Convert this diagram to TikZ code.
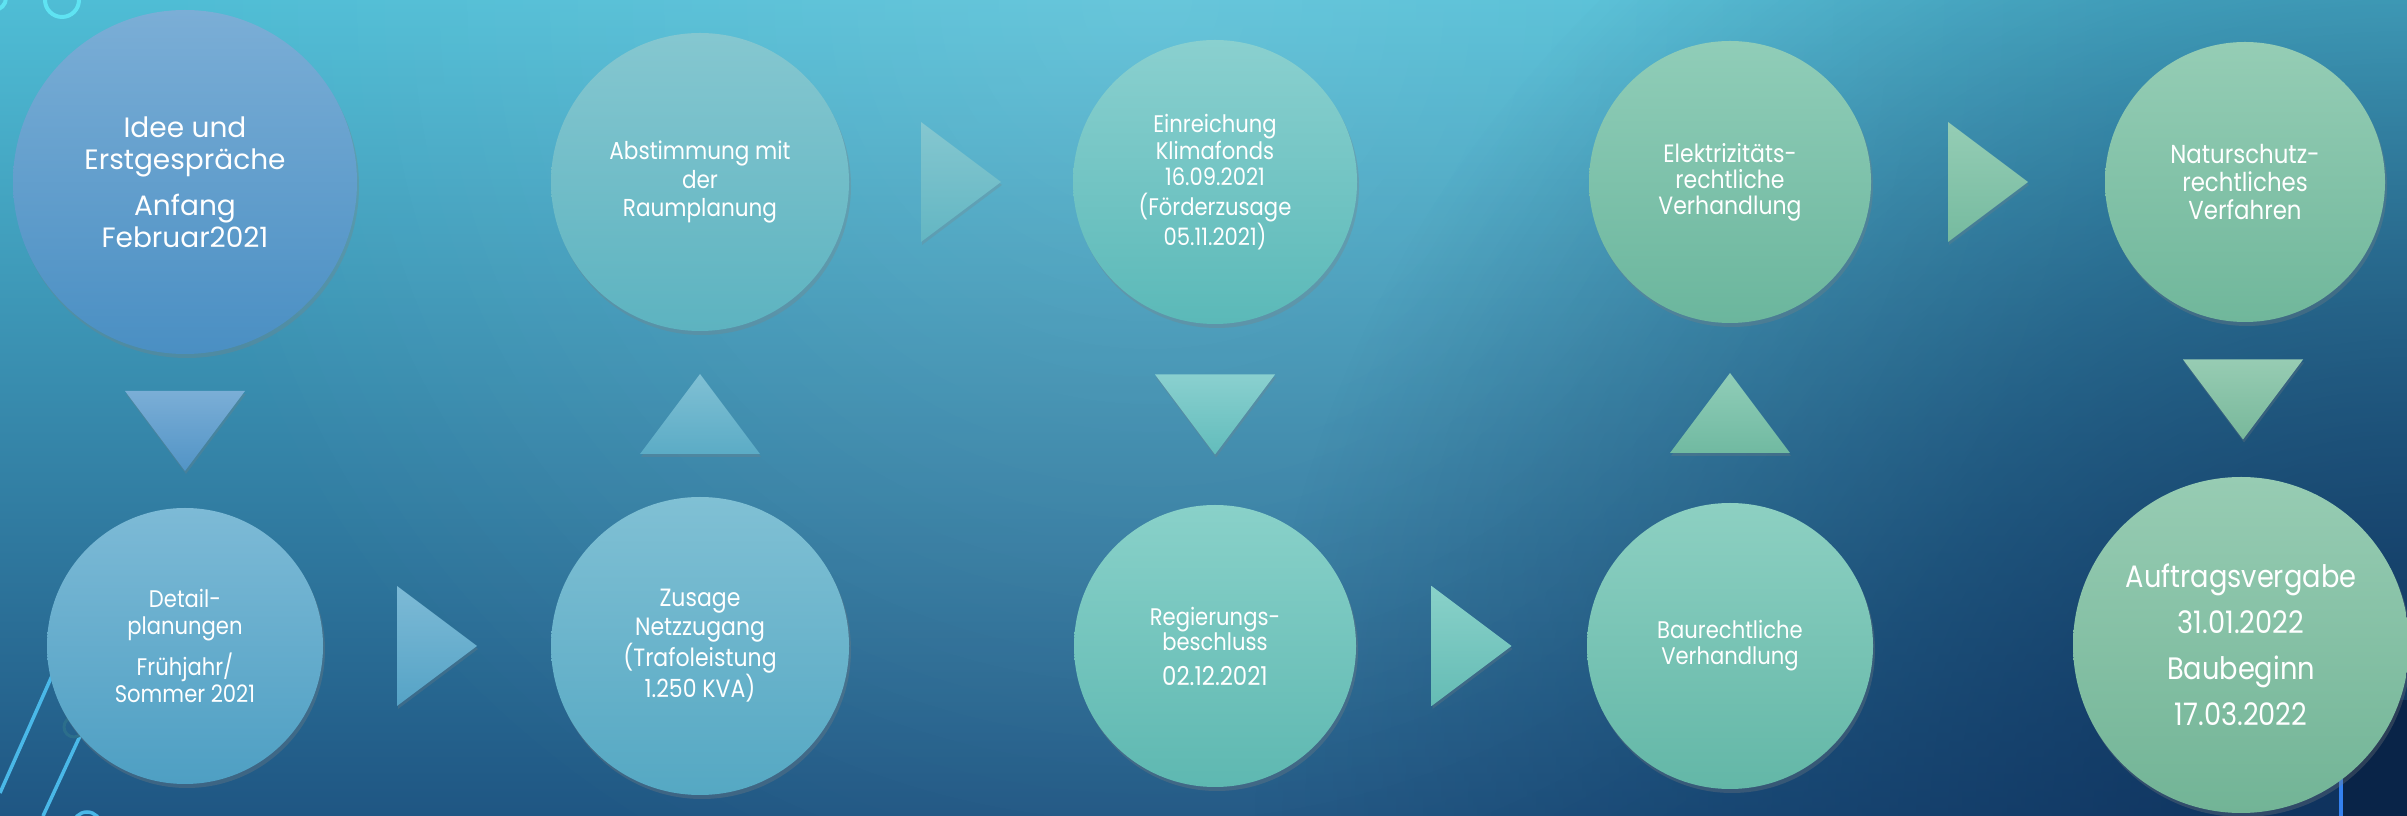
\documentclass[tikz,border=0pt]{standalone}
\usepackage{fontspec}
\setmainfont{Poppins}[FakeStretch=0.88]
\newfontfamily\ideefont{Poppins}
\usepackage{tikz}
\usetikzlibrary{positioning,calc,shadows,fadings}

\definecolor{bgtop}{HTML}{4FBDD5}
\definecolor{bgmid}{HTML}{43ADCA}
\definecolor{bgbot}{HTML}{1F5683}
\definecolor{bgnavy}{HTML}{0B2A55}
\definecolor{ringcyan}{HTML}{5FE3F2}
\definecolor{linecyan}{HTML}{4AB8E8}
% circle shades, top and bottom
\definecolor{ideeT}{HTML}{7BAED6}   \definecolor{ideeB}{HTML}{4A8FC3}
\definecolor{detailT}{HTML}{7DBAD6} \definecolor{detailB}{HTML}{4E9FC3}
\definecolor{abstT}{HTML}{85C7D0}   \definecolor{abstB}{HTML}{5DB3C0}
\definecolor{zusageT}{HTML}{80C0D4} \definecolor{zusageB}{HTML}{55A8C3}
\definecolor{einrT}{HTML}{8AD0CF}   \definecolor{einrB}{HTML}{5BB9B8}
\definecolor{regierT}{HTML}{89D1C9} \definecolor{regierB}{HTML}{5EB8B1}
\definecolor{elekT}{HTML}{90CDB8}   \definecolor{elekB}{HTML}{6BB69D}
\definecolor{bauT}{HTML}{8DD0C2}    \definecolor{bauB}{HTML}{63B7A7}
\definecolor{naturT}{HTML}{95CDB5}  \definecolor{naturB}{HTML}{70B79B}
\definecolor{auftragT}{HTML}{97CCB3}\definecolor{auftragB}{HTML}{72B496}

\tikzfading[name=softspot, inner color=transparent!0, outer color=transparent!100]

\newcommand{\setfs}[2]{\fontsize{#1}{#2}\selectfont}
% arrow triangles, centred on a named coordinate
\newcommand{\tridown}[3]{\shade[tri,shift={(#1)},top color=#2,bottom color=#3] (-60,40) -- (60,40) -- (0,-40) -- cycle;}
\newcommand{\triup}[3]{\shade[tri,shift={(#1)},top color=#2,bottom color=#3] (-60,-40) -- (60,-40) -- (0,40) -- cycle;}
\newcommand{\triright}[3]{\shade[tri,shift={(#1)},top color=#2,bottom color=#3] (-40,60) -- (40,0) -- (-40,-60) -- cycle;}

\begin{document}
\begin{tikzpicture}[x=1pt,y=1pt,node distance=515pt,
    phase/.style={circle,draw=none,text=white,align=center,inner sep=0pt,
      drop shadow={shadow xshift=2pt,shadow yshift=-4pt,opacity=.3}},
    tri/.style={draw=none,drop shadow={shadow xshift=1pt,shadow yshift=-3pt,opacity=.25}},
    deco line/.style={draw=linecyan,line width=3.5pt}]

  \useasboundingbox (0,0) rectangle (2407,816);

  % background
  \begin{scope}
    \clip (0,0) rectangle (2407,816);
    \shade[top color=bgtop,middle color=bgmid,bottom color=bgbot] (0,0) rectangle (2407,816);
    \fill[white,path fading=softspot,fill opacity=.14] (1150,816) circle (1000);
    \fill[bgnavy,path fading=softspot,fill opacity=.85] (2407,0) circle (1150);
    \draw[ringcyan,line width=4pt] (62,816) circle (17);
    \draw[ringcyan,line width=4pt] (-6,818) circle (12);
    \draw[deco line] (63,165) -- (0,23);
    \draw[deco line] (80,80) -- (43,0);
    \draw[draw=linecyan!60!black,line width=3pt] (74,89) circle (10);
    \draw[deco line] (87,-10) circle (14);
    \fill[bgnavy!85!black] (2342,0) rectangle (2407,116);
    \draw[draw=linecyan!70!blue,line width=4pt] (2341,0) -- (2341,60);
  \end{scope}

  % phases
  \node[phase,minimum size=344pt,top color=ideeT,bottom color=ideeB,font=\ideefont\setfs{28}{32}]
    (idee) at (185,634) {Idee und\\Erstgespräche\\[14pt]Anfang\\Februar2021};
  \node[phase,minimum size=298pt,top color=abstT,bottom color=abstB,font=\setfs{24.5}{28.5}]
    (abst) [right of=idee] {Abstimmung mit\\der\\Raumplanung};
  \node[phase,minimum size=284pt,top color=einrT,bottom color=einrB,font=\setfs{24}{26.5}]
    (einr) [right of=abst] {Einreichung\\Klimafonds\\16.09.2021\\[3pt](Förderzusage\\05.11.2021)};
  \node[phase,minimum size=282pt,top color=elekT,bottom color=elekB,font=\setfs{25}{26}]
    (elek) [right of=einr] {Elektrizitäts-\\rechtliche\\Verhandlung};
  \node[phase,minimum size=280pt,top color=naturT,bottom color=naturB,font=\setfs{26}{28}]
    (natur) [right of=elek] {Naturschutz-\\rechtliches\\Verfahren};
  \node[phase,minimum size=276pt,top color=detailT,bottom color=detailB,font=\setfs{24}{27}]
    (detail) [below of=idee,node distance=464pt] {Detail-\\planungen\\[10pt]Frühjahr/\\Sommer 2021};
  \node[phase,minimum size=298pt,top color=zusageT,bottom color=zusageB,font=\setfs{25}{29}]
    (zusage) [right of=detail] {Zusage\\Netzzugang\\(Trafoleistung\\1.250 KVA)};
  \node[phase,minimum size=282pt,top color=regierT,bottom color=regierB,font=\setfs{24}{25}]
    (regier) [right of=zusage] {Regierungs-\\beschluss\\[10pt]{\setfs{26}{27}02.12.2021}};
  \node[phase,minimum size=286pt,top color=bauT,bottom color=bauB,font=\setfs{24}{26}]
    (bau) [right of=regier] {Baurechtliche\\Verhandlung};
  \node[phase,minimum size=336pt,top color=auftragT,bottom color=auftragB,font=\setfs{31}{34}]
    (auftrag) at (2241,171) {Auftragsvergabe\\[12pt]31.01.2022\\[12pt]Baubeginn\\[12pt]17.03.2022};

  % arrows between the phases
  \coordinate (m1) at ($(idee.south)!.5!(detail.north)$);
  \coordinate (m2) at ($(detail.east)!.5!(zusage.west)$);
  \coordinate (m3) at ($(zusage.north)!.5!(abst.south)$);
  \coordinate (m4) at ($(abst.east)!.5!(einr.west)$);
  \coordinate (m5) at ($(einr.south)!.5!(regier.north)$);
  \coordinate (m6) at ($(regier.east)!.5!(bau.west)$);
  \coordinate (m7) at ($(bau.north)!.5!(elek.south)$);
  \coordinate (m8) at ($(elek.east)!.5!(natur.west)$);
  \coordinate (m9) at ($(natur.south)!.5!(auftrag.north)$);

  \tridown{m1}{ideeT}{ideeB!85!ideeT}
  \triright{m2}{detailT}{detailB!85!detailT}
  \triup{m3}{zusageT}{zusageB!85!zusageT}
  \triright{m4}{abstT}{abstB!85!abstT}
  \tridown{m5}{einrT}{einrB!85!einrT}
  \triright{m6}{regierT}{regierB!85!regierT}
  \triup{m7}{elekT}{elekB!85!elekT}
  \triright{m8}{naturT}{naturB!85!naturT}
  \tridown{m9}{auftragT}{auftragB!85!auftragT}

\end{tikzpicture}
\end{document}
